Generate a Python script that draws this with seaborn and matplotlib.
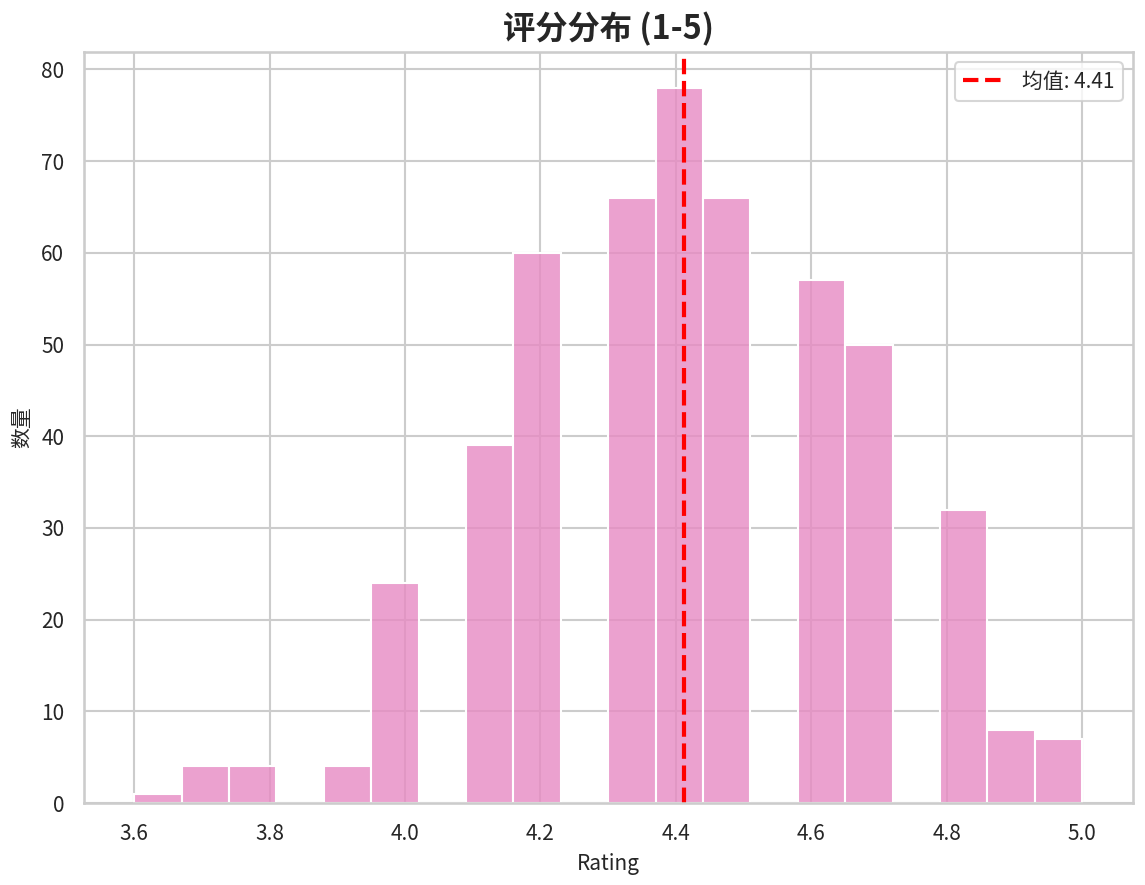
import numpy as np
import pandas as pd
import matplotlib
matplotlib.use("Agg")
import matplotlib.pyplot as plt
import seaborn as sns

ratings = [3.6, 3.7, 3.8, 3.9, 4.0, 4.1, 4.2, 4.3, 4.4, 4.5, 4.6, 4.7, 4.8, 4.9, 5.0]
counts = [1, 4, 4, 4, 24, 39, 60, 66, 78, 66, 57, 50, 32, 8, 7]

df = pd.DataFrame({"Rating": np.repeat(ratings, counts)})
mean_val = df["Rating"].mean()

sns.set_theme(style="whitegrid")
plt.rcParams["font.family"] = ["Noto Sans CJK SC", "DejaVu Sans"]
plt.rcParams["axes.unicode_minus"] = False

fig = plt.figure(figsize=(1145 / 150, 885 / 150), dpi=150)
ax = fig.add_axes([84 / 1145, 1 - 803 / 885, (1133 - 84) / 1145, (803 - 52) / 885])

edges = np.linspace(3.6, 5.0, 21) - 1e-6
edges[-1] = 5.0 + 1e-6
sns.histplot(data=df, x="Rating", bins=edges, color="#e78ac3", alpha=0.8, ax=ax)
ax.axvline(mean_val, color="red", linestyle="--", linewidth=2, label=f"均值: {mean_val:.2f}")

ax.set_title("评分分布 (1-5)", fontsize=15.5, fontweight="bold")
ax.set_xlabel("Rating", fontsize=10)
ax.set_ylabel("数量", fontsize=10)
ax.tick_params(labelsize=10)
ax.legend(fontsize=10, loc="upper right")
ax.set_xlim(3.526, 5.075)
ax.set_ylim(0, 81.9)

fig.savefig("out.png", dpi=150)
